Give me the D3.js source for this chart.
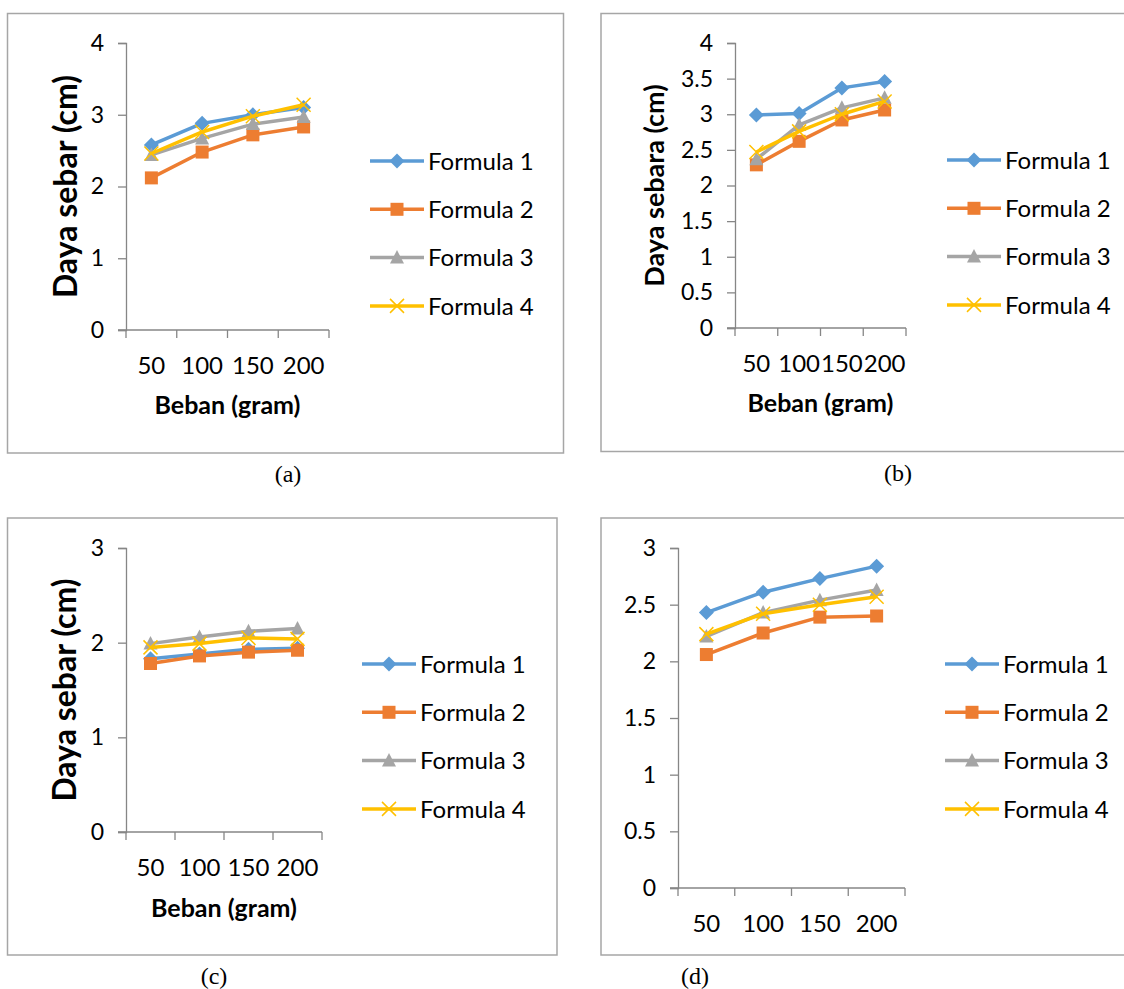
<!DOCTYPE html>
<html>
  <head>
    <title>Daya sebar</title>
    <script src="https://d3js.org/d3.v7.min.js"></script>
    <style>
      body { margin: 0; background: #fff; }
      svg text { font-family: Lato, "Open Sans", sans-serif; fill: #000; }
      svg text.caption { font-family: "Liberation Serif", "DejaVu Serif", serif; }
    </style>
  </head>
  <body>
    <div id="chart"></div>
    <script>
      // categories and legend names
      const beban = ["50", "100", "150", "200"];
      const formulas = ["Formula 1", "Formula 2", "Formula 3", "Formula 4"];
      const colors = ["#5b9bd5", "#ed7d31", "#a5a5a5", "#ffc000"];

      // values, one array per formula
      const a1 = [2.58, 2.88, 3.0, 3.1];
      const a2 = [2.12, 2.48, 2.72, 2.83];
      const a3 = [2.44, 2.67, 2.87, 2.97];
      const a4 = [2.46, 2.76, 2.98, 3.14];

      const b1 = [2.99, 3.01, 3.37, 3.46];
      const b2 = [2.29, 2.62, 2.92, 3.06];
      const b3 = [2.37, 2.85, 3.09, 3.23];
      const b4 = [2.47, 2.76, 3.0, 3.18];

      const c1 = [1.83, 1.88, 1.93, 1.94];
      const c2 = [1.78, 1.86, 1.9, 1.92];
      const c3 = [1.99, 2.06, 2.12, 2.15];
      const c4 = [1.95, 1.99, 2.05, 2.04];

      const d1 = [2.43, 2.61, 2.73, 2.84];
      const d2 = [2.06, 2.25, 2.39, 2.4];
      const d3v = [2.22, 2.43, 2.54, 2.63];
      const d4 = [2.24, 2.42, 2.5, 2.57];

      // tick labels for y axes
      const ticksA = [0, 1, 2, 3, 4];
      const ticksB = [0, 0.5, 1, 1.5, 2, 2.5, 3, 3.5, 4];
      const ticksC = [0, 1, 2, 3];
      const ticksD = [0, 0.5, 1, 1.5, 2, 2.5, 3];

      const svg = d3
        .select("#chart")
        .append("svg")
        .attr("width", 1124)
        .attr("height", 989);

      // panel layouts
      const panels = [
        {
          series: [a1, a2, a3, a4], ticks: ticksA, yMax: 4,
          frame: [7.5, 13.5, 556, 439.5], left: 126, right: 329, top: 43, bottom: 330,
          yLabel: "Daya sebar (cm)", yLabelSize: 32, yLabelX: 66, xLabel: "Beban (gram)", xLabelY: 414,
          tickY: 374, legendX: 370, legendY: 161, caption: "(a)", capX: 288, capY: 482
        },
        {
          series: [b1, b2, b3, b4], ticks: ticksB, yMax: 4,
          frame: [601, 13.5, 540, 438], left: 735, right: 906, top: 43, bottom: 328,
          yLabel: "Daya sebara (cm)", yLabelSize: 27, yLabelX: 655, xLabel: "Beban (gram)", xLabelY: 412,
          tickY: 372, legendX: 947, legendY: 160, caption: "(b)", capX: 898, capY: 481
        },
        {
          series: [c1, c2, c3, c4], ticks: ticksC, yMax: 3,
          frame: [7.5, 518, 549.5, 437], left: 126, right: 322, top: 548, bottom: 832,
          yLabel: "Daya sebar (cm)", yLabelSize: 32, yLabelX: 65, xLabel: "Beban (gram)", xLabelY: 917,
          tickY: 876, legendX: 362, legendY: 664, caption: "(c)", capX: 214, capY: 984
        },
        {
          series: [d1, d2, d3v, d4], ticks: ticksD, yMax: 3,
          frame: [601, 518, 540, 437], left: 678, right: 905, top: 548, bottom: 888,
          yLabel: null, xLabel: null,
          tickY: 932, legendX: 945, legendY: 664, caption: "(d)", capX: 695, capY: 984
        }
      ];

      function marker(g, i, color) {
        if (i === 0) {
          const r = 7.5;
          g.append("path")
            .attr("d", `M0,${-r}L${r},0L0,${r}L${-r},0Z`)
            .attr("fill", color);
        } else if (i === 1) {
          g.append("rect")
            .attr("x", -6.5).attr("y", -6.5)
            .attr("width", 13).attr("height", 13)
            .attr("fill", color);
        } else if (i === 2) {
          g.append("path")
            .attr("d", "M0,-7.5L7,6L-7,6Z")
            .attr("fill", color);
        } else {
          const r = 7;
          g.append("path")
            .attr("d", `M${-r},${-r}L${r},${r}M${-r},${r}L${r},${-r}`)
            .attr("stroke", color)
            .attr("stroke-width", 1.5)
            .attr("fill", "none");
        }
      }

      panels.forEach((p) => {
        const g = svg.append("g");

        g.append("rect")
          .attr("x", p.frame[0])
          .attr("y", p.frame[1])
          .attr("width", p.frame[2])
          .attr("height", p.frame[3])
          .attr("fill", "none")
          .attr("stroke", "#a6a6a6")
          .attr("stroke-width", 1.5);

        const x = d3.scaleBand().domain(beban).range([p.left, p.right]);
        const y = d3.scaleLinear().domain([0, p.yMax]).range([p.bottom, p.top]);

        // y axis
        const yAxis = d3.axisLeft(y).tickValues(p.ticks).tickSize(8).tickPadding(14).tickFormat((d) => d);
        const ya = g.append("g").attr("transform", `translate(${p.left},0)`).call(yAxis);
        ya.select(".domain").attr("stroke", "#868686").attr("stroke-width", 1.3);
        ya.selectAll(".tick line").attr("stroke", "#868686").attr("stroke-width", 1.3);
        ya.selectAll(".tick text").attr("font-size", 23).attr("font-family", "Lato");

        // x axis: ticks at category boundaries
        const xa = g.append("g").attr("transform", `translate(0,${p.bottom})`);
        xa.append("line")
          .attr("x1", p.left - 8).attr("x2", p.right)
          .attr("stroke", "#868686").attr("stroke-width", 1.3);
        const bounds = beban.map((d) => x(d)).concat([p.right]);
        xa.selectAll(".bt")
          .data(bounds)
          .join("line")
          .attr("x1", (d) => d).attr("x2", (d) => d)
          .attr("y1", 0).attr("y2", 8)
          .attr("stroke", "#868686").attr("stroke-width", 1.3);
        g.selectAll(".xt")
          .data(beban)
          .join("text")
          .attr("x", (d) => x(d) + x.bandwidth() / 2)
          .attr("y", p.tickY)
          .attr("text-anchor", "middle")
          .attr("font-size", 24)
          .text((d) => d);

        // lines
        const line = d3
          .line()
          .x((d, j) => x(beban[j]) + x.bandwidth() / 2)
          .y((d) => y(d));
        p.series.forEach((vals, i) => {
          g.append("path")
            .datum(vals)
            .attr("d", line)
            .attr("fill", "none")
            .attr("stroke", colors[i])
            .attr("stroke-width", 3.5)
            .attr("stroke-linejoin", "round");
          vals.forEach((v, j) => {
            const m = g.append("g").attr("transform", `translate(${x(beban[j]) + x.bandwidth() / 2},${y(v)})`);
            marker(m, i, colors[i]);
          });
        });

        // axis titles
        if (p.yLabel) {
          g.append("text")
            .attr("transform", `translate(${p.yLabelX},${(p.top + p.bottom) / 2}) rotate(-90)`)
            .attr("text-anchor", "middle")
            .attr("dy", "0.35em")
            .attr("font-size", p.yLabelSize)
            .attr("font-weight", "bold")
            .text(p.yLabel);
        }
        if (p.xLabel) {
          g.append("text")
            .attr("x", (p.left + p.right) / 2)
            .attr("y", p.xLabelY)
            .attr("text-anchor", "middle")
            .attr("font-size", 25)
            .attr("font-weight", "bold")
            .text(p.xLabel);
        }

        // legend
        formulas.forEach((f, i) => {
          const ly = p.legendY + i * 48.3;
          g.append("line")
            .attr("x1", p.legendX).attr("x2", p.legendX + 54)
            .attr("y1", ly).attr("y2", ly)
            .attr("stroke", colors[i]).attr("stroke-width", 3.5);
          const m = g.append("g").attr("transform", `translate(${p.legendX + 27},${ly})`);
          marker(m, i, colors[i]);
          g.append("text")
            .attr("x", p.legendX + 58)
            .attr("y", ly)
            .attr("dy", "0.36em")
            .attr("font-size", 24)
            .text(f);
        });

        g.append("text")
          .attr("class", "caption")
          .attr("x", p.capX)
          .attr("y", p.capY)
          .attr("text-anchor", "middle")
          .attr("font-size", 24)
          .text(p.caption);
      });
    </script>
  </body>
</html>
